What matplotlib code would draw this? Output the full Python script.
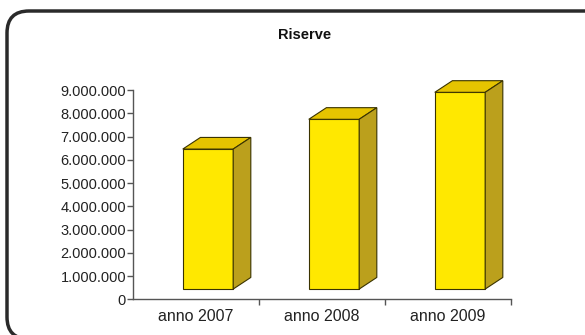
import matplotlib
matplotlib.use("Agg")
from matplotlib import pyplot as plt
from matplotlib.patches import Polygon, FancyBboxPatch
from matplotlib.ticker import FuncFormatter, FixedLocator

# data
categories = ['anno 2007', 'anno 2008', 'anno 2009']
riserve = [6460000, 7740000, 8900000]
y_ticks = [0, 1000000, 2000000, 3000000, 4000000, 5000000, 6000000, 7000000, 8000000, 9000000]

plt.rcParams['font.family'] = ['Liberation Sans', 'DejaVu Sans']

fig = plt.figure(figsize=(5.85, 3.35), dpi=100)
fig.patch.set_facecolor('white')

# rounded frame
frame = FancyBboxPatch((0.07, -0.04), 6.2, 3.28, boxstyle='round,pad=0,rounding_size=0.22',
                       transform=fig.dpi_scale_trans, facecolor='none', edgecolor='#2a2a2a',
                       linewidth=2.5, zorder=-1)
fig.patches.append(frame)

ax = fig.add_axes([133 / 585, 1 - 299.3 / 335, (511 - 133) / 585, (299.3 - 90) / 335])
ax.set_facecolor('none')

front_c = '#FFE800'
top_c = '#E6C400'
side_c = '#BBA01C'
edge_c = '#3a3300'
base = 440000
w = 0.40
shift = 0.095
dx = 0.14
dy = 500000

for i, v in enumerate(riserve):
    x0 = i + shift - w / 2
    x1 = x0 + w
    ax.bar(i + shift, v - base, bottom=base, width=w, color=front_c, edgecolor=edge_c, linewidth=0.8, zorder=3)
    top = Polygon([(x0, v), (x1, v), (x1 + dx, v + dy), (x0 + dx, v + dy)], closed=True,
                  facecolor=top_c, edgecolor=edge_c, linewidth=0.8, zorder=3, clip_on=False)
    side = Polygon([(x1, base), (x1, v), (x1 + dx, v + dy), (x1 + dx, base + dy)], closed=True,
                   facecolor=side_c, edgecolor=edge_c, linewidth=0.8, zorder=3, clip_on=False)
    ax.add_patch(top)
    ax.add_patch(side)

ax.set_xlim(-0.5, 2.5)
ax.set_ylim(0, 9000000)
ax.set_yticks(y_ticks)
ax.yaxis.set_major_formatter(FuncFormatter(lambda v, p: f"{int(v):,}".replace(',', '.')))
ax.xaxis.set_major_locator(FixedLocator([0.5, 1.5, 2.5]))
ax.xaxis.set_major_formatter(FuncFormatter(lambda v, p: ''))
ax.xaxis.set_minor_locator(FixedLocator([0, 1, 2]))
ax.set_xticklabels(categories, minor=True)
ax.tick_params(axis='x', which='minor', length=0, pad=7, labelsize=11.5, colors='#222222')
ax.tick_params(axis='x', which='major', length=4, width=1, color='#555555')
ax.tick_params(axis='y', length=4, width=1, color='#555555', labelsize=10.5, labelcolor='#222222', pad=1)

for s in ['top', 'right']:
    ax.spines[s].set_visible(False)
for s in ['left', 'bottom']:
    ax.spines[s].set_color('#555555')
    ax.spines[s].set_linewidth(1)

fig.text(305 / 585, 1 - 35 / 335, 'Riserve', ha='center', va='center', fontsize=10.5,
         fontweight='bold', color='#111111')

fig.savefig('out.png', dpi=100)
